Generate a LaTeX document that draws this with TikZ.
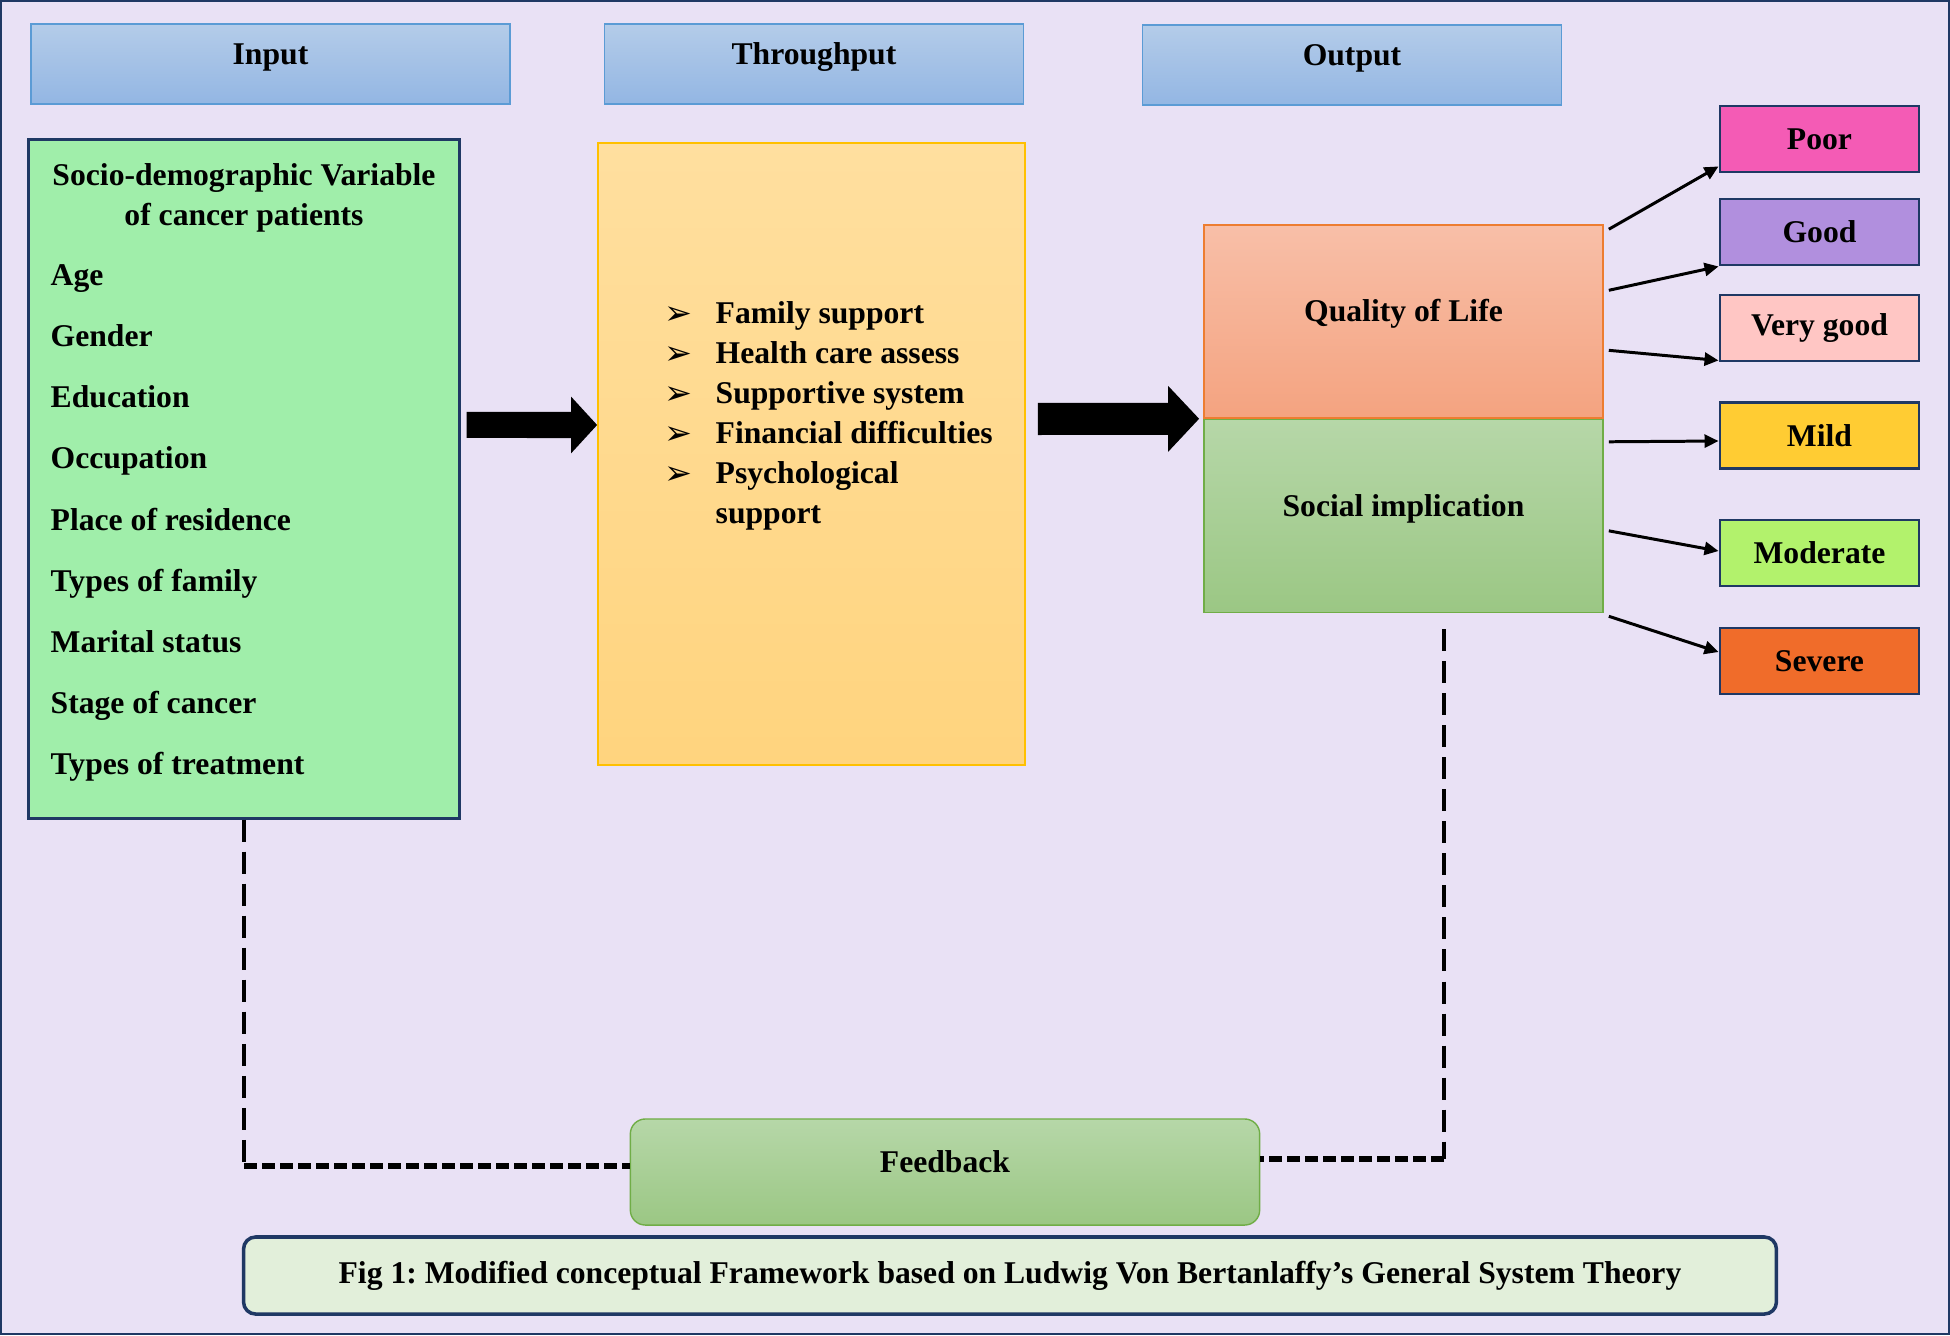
\documentclass[tikz,border=0pt]{standalone}
\usepackage{fontspec}
\setmainfont{Liberation Serif}
\newfontfamily\symfont{DejaVu Sans}
\usetikzlibrary{arrows.meta,positioning,calc}
\definecolor{bgc}{HTML}{E9E1F5}
\definecolor{navy}{HTML}{1F3864}
\definecolor{hdrtop}{HTML}{B4CCE9}
\definecolor{hdrbot}{HTML}{93B6E3}
\definecolor{hdrline}{HTML}{5B9BD5}
\definecolor{ingreen}{HTML}{A0EEAA}
\definecolor{tptop}{HTML}{FFDF9F}
\definecolor{tpbot}{HTML}{FFD47E}
\definecolor{tpline}{HTML}{FFC000}
\definecolor{qoltop}{HTML}{F8BFA8}
\definecolor{qolbot}{HTML}{F4A380}
\definecolor{qolline}{HTML}{ED7D31}
\definecolor{gtop}{HTML}{B6D7A8}
\definecolor{gbot}{HTML}{9BC784}
\definecolor{gline}{HTML}{70AD47}
\definecolor{poorc}{HTML}{F45BB5}
\definecolor{goodc}{HTML}{B18FDE}
\definecolor{vgoodc}{HTML}{FFC6C4}
\definecolor{mildc}{HTML}{FFCC33}
\definecolor{moderc}{HTML}{B2F26C}
\definecolor{severec}{HTML}{F06C2A}
\definecolor{capc}{HTML}{E2EFDA}
\newcommand{\lblfont}{\fontsize{9pt}{11.4pt}\selectfont\bfseries\frenchspacing}
\tikzset{
  hdr/.style={rectangle, draw=hdrline, top color=hdrtop, bottom color=hdrbot, minimum width=4.19cm, minimum height=0.8cm, text height=0.22cm, text depth=0.22cm, font=\lblfont},
  half/.style={rectangle, minimum width=3.99cm, minimum height=1.93cm, text height=0.22cm, text depth=0.22cm, font=\lblfont},
  lvl/.style={rectangle, draw=navy, line width=0.8pt, minimum width=1.99cm, minimum height=0.66cm, font=\lblfont},
  item/.style={inner sep=0pt, font=\lblfont},
  bul/.style={inner sep=0pt, font=\symfont\fontsize{9.5pt}{11pt}\selectfont},
  bigarr/.style={line width=0.26cm, -{Triangle[length=0.26cm,width=0.55cm]}},
  thinarr/.style={line width=0.85pt, -{Triangle[length=0.14cm,width=0.13cm]}},
  fbv/.style={line width=1.3pt, dash pattern=on 0.22cm off 0.1cm},
  fbh/.style={line width=1.7pt, dash pattern=on 0.13cm off 0.05cm}
}

\begin{document}
\begin{tikzpicture}[x=0.01cm,y=-0.01cm]
\useasboundingbox (0,0) rectangle (1950,1335);
\fill[bgc] (0,0) rectangle (1950,1335);
\draw[navy, line width=0.6pt] (1,1) rectangle (1949,1334);

\node[hdr, minimum width=4.79cm] (hin) at (270.5,64) {Input};
\node[hdr] (hthru) at (814,64) {Throughput};
\node[hdr] (hout) at (1352,65) {Output};

\node[rectangle, draw=navy, line width=0.8pt, fill=ingreen, minimum width=4.3cm, minimum height=6.78cm] (inbox) at (244,479) {};
\node[align=center, font=\lblfont] (intitle) at (244,198) {Socio-demographic Variable\\of cancer patients};
\foreach \t [count=\i] in {Age, Gender, Education, Occupation, Place of residence, Types of family, Marital status, Stage of cancer, Types of treatment}
  \node[item, anchor=base west] (var\i) at (50,{224+61.2*\i}) {\t};

\node[rectangle, draw=tpline, top color=tptop, bottom color=tpbot, minimum width=4.27cm, minimum height=6.22cm] (tpbox) at (811.5,454) {};
\foreach \t [count=\i] in {Family support, Health care assess, Supportive system, Financial difficulties, Psychological} {
  \node[bul, anchor=base] (b\i) at (678,{284+40*\i}) {➢};
  \node[item, anchor=base west] (tp\i) at (715,{283+40*\i}) {\t};
}
\node[item, anchor=base west] (tp6) at (715,523) {support};

\node[half, draw=qolline, top color=qoltop, bottom color=qolbot] (qol) at (1403.5,321.5) {Quality of Life};
\node[half, draw=gline, top color=gtop, bottom color=gbot, below=0pt of qol] (soc) {Social implication};

\node[lvl, fill=poorc] (poor) at (1819.5,139) {Poor};
\node[lvl, fill=goodc] (good) at (1819.5,232) {Good};
\node[lvl, fill=vgoodc] (vgood) at (1819.5,328) {Very good};
\node[lvl, fill=mildc] (mild) at (1819.5,435.5) {Mild};
\node[lvl, fill=moderc] (moder) at (1819.5,553) {Moderate};
\node[lvl, fill=severec] (severe) at (1819.5,661) {Severe};

\draw[bigarr] ([xshift=0.06cm,yshift=0.54cm]inbox.east) -- ([yshift=0.29cm]tpbox.west);
\draw[bigarr, line width=0.32cm, -{Triangle[length=0.31cm,width=0.64cm]}] ([xshift=0.12cm,yshift=0.35cm]tpbox.east) -- ([xshift=-0.04cm]qol.south west);

\draw[thinarr] ([xshift=0.05cm,yshift=-0.05cm]qol.north east) -- ([yshift=0.07cm]poor.south west);
\draw[thinarr] ([xshift=0.05cm,yshift=-0.66cm]qol.north east) -- (good.south west);
\draw[thinarr] ([xshift=0.05cm,yshift=-1.26cm]qol.north east) -- ([yshift=0.02cm]vgood.south west);
\draw[thinarr] ([xshift=0.05cm,yshift=-0.23cm]soc.north east) -- ([yshift=-0.055cm]mild.west);
\draw[thinarr] ([xshift=0.05cm,yshift=-1.12cm]soc.north east) -- ([yshift=0.02cm]moder.west);
\draw[thinarr] ([xshift=0.05cm,yshift=-0.03cm]soc.south east) -- ([yshift=0.09cm]severe.west);

\node[rectangle, rounded corners=0.15cm, draw=gline, top color=gtop, bottom color=gbot, minimum width=6.29cm, minimum height=1.06cm, text height=0.22cm, text depth=0.22cm, font=\lblfont] (fb) at (945,1172) {Feedback};
\coordinate (fbl) at (244,1166);
\coordinate (fbr) at (1444,1159);
\draw[fbv] (inbox.south) -- (fbl);
\draw[fbh] (fbl) -- (fb.west |- fbl);
\draw[fbv] ($(soc.south -| fbr)+(0,16)$) -- (fbr);
\draw[fbh] (fbr) -- (fb.east |- fbr);

\node[rectangle, rounded corners=0.12cm, draw=navy, line width=1pt, fill=capc, minimum width=15.32cm, minimum height=0.77cm, font=\lblfont] (cap) at (1010,1275.5) {Fig 1: Modified conceptual Framework based on Ludwig Von Bertanlaffy’s General System Theory};
\end{tikzpicture}
\end{document}
